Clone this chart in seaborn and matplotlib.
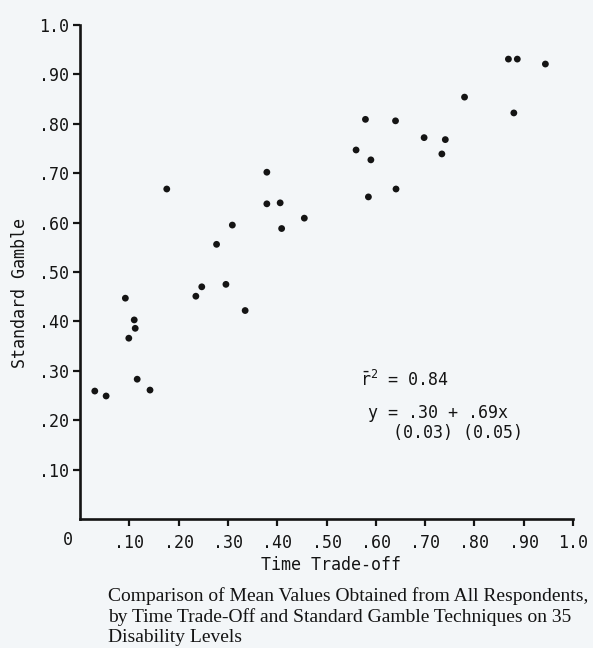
import matplotlib
matplotlib.use("Agg")
import matplotlib.pyplot as plt
import seaborn as sns
import pandas as pd

# Data (Time Trade-off vs Standard Gamble)
time_tradeoff = [0.030, 0.053, 0.092, 0.099, 0.110, 0.112, 0.116, 0.142, 0.176,
                 0.235, 0.247, 0.277, 0.296, 0.309, 0.335, 0.379, 0.379, 0.406,
                 0.409, 0.455, 0.560, 0.579, 0.590, 0.585, 0.640, 0.641, 0.698,
                 0.741, 0.734, 0.780, 0.869, 0.887, 0.880, 0.944]
standard_gamble = [0.259, 0.249, 0.447, 0.366, 0.403, 0.386, 0.283, 0.261, 0.668,
                   0.451, 0.470, 0.556, 0.475, 0.595, 0.422, 0.702, 0.638, 0.640,
                   0.588, 0.609, 0.747, 0.809, 0.727, 0.652, 0.806, 0.668, 0.772,
                   0.768, 0.739, 0.854, 0.931, 0.931, 0.822, 0.921]
x_ticks = [0.1, 0.2, 0.3, 0.4, 0.5, 0.6, 0.7, 0.8, 0.9, 1.0]
x_tick_labels = [".10", ".20", ".30", ".40", ".50", ".60", ".70", ".80", ".90", "1.0"]
y_ticks = [0.1, 0.2, 0.3, 0.4, 0.5, 0.6, 0.7, 0.8, 0.9, 1.0]
y_tick_labels = [".10", ".20", ".30", ".40", ".50", ".60", ".70", ".80", ".90", "1.0"]
caption_lines = ["Comparison of Mean Values Obtained from All Respondents,",
                 "by Time Trade-Off and Standard Gamble Techniques on 35",
                 "Disability Levels"]

sns.set_style("ticks")
plt.rcParams["font.family"] = ["DejaVu Sans Mono"]
plt.rcParams["mathtext.fontset"] = "custom"
plt.rcParams["mathtext.rm"] = "DejaVu Sans Mono"
plt.rcParams["mathtext.it"] = "DejaVu Sans Mono"

BG = "#f3f6f8"
INK = "#141414"
W, H = 593, 648
fig = plt.figure(figsize=(W / 100, H / 100), dpi=100, facecolor=BG)
ax = fig.add_axes([80 / W, (H - 519) / H, 493 / W, 494 / H])
ax.set_facecolor(BG)

df = pd.DataFrame({"Time Trade-off": time_tradeoff, "Standard Gamble": standard_gamble})
sns.scatterplot(data=df, x="Time Trade-off", y="Standard Gamble", ax=ax,
                color=INK, s=24, linewidth=0, edgecolor="none")

ax.set_xlim(0, 1)
ax.set_ylim(0, 1)
sns.despine(ax=ax)
for sp in ("left", "bottom"):
    ax.spines[sp].set_linewidth(1.9)
    ax.spines[sp].set_color(INK)

ax.set_xticks(x_ticks)
ax.set_xticklabels(x_tick_labels)
ax.set_yticks(y_ticks)
ax.set_yticklabels(y_tick_labels)
ax.tick_params(axis="both", colors=INK, labelsize=12, width=1.6, length=5,
               direction="out")
ax.tick_params(axis="x", pad=6)
ax.tick_params(axis="y", pad=3)

ax.set_xlabel("Time Trade-off", fontsize=12, color=INK)
ax.set_ylabel("Standard Gamble", fontsize=12, color=INK)
ax.xaxis.set_label_coords((331 - 80) / 493, (519 - 556) / 494)
ax.yaxis.set_label_coords((29 - 80) / 493, (519 - 293) / 494)

# origin label
fig.text(68 / W, 1 - 540 / H, "0", fontsize=12, color=INK, ha="center", va="center")

# regression annotation
fig.text(360 / W, 1 - 380 / H, r"$\bar{\mathrm{r}}^{2}$ = 0.84", fontsize=12,
         color=INK, ha="left", va="center")
fig.text(368 / W, 1 - 413 / H, "y = .30 + .69x", fontsize=12, color=INK,
         ha="left", va="center")
fig.text(393 / W, 1 - 433 / H, "(0.03) (0.05)", fontsize=12, color=INK,
         ha="left", va="center")

# caption
for i, line in enumerate(caption_lines):
    fig.text(108 / W, 1 - (601 + 20.5 * i) / H, line, fontsize=14,
             family="Liberation Serif", color=INK, ha="left", va="baseline")

fig.savefig("out.png", dpi=100, facecolor=BG)
